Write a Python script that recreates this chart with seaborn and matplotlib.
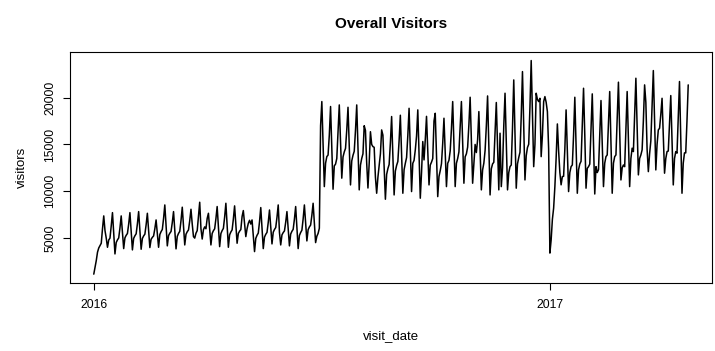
import matplotlib
matplotlib.use("Agg")
import matplotlib.pyplot as plt
import pandas as pd
import seaborn as sns

# Data: total visitors per day
START_DATE = "2016-01-01"
visitors = [
    1150, 1900,                                      # Fri 1 Jan, Sat 2 Jan
    2600, 3500, 3950, 4200, 4450, 6000, 7370,        # weeks run Sun..Sat
    5800, 5000, 4020, 4800, 5000, 6300, 7720,
    5500, 3310, 4530, 4810, 5015, 6070, 7370,
    5625, 3880, 5030, 5300, 5490, 6490, 7720,
    5730, 3740, 4970, 5250, 5460, 6520, 7830,
    5820, 3810, 4960, 5230, 5420, 6420, 7650,
    5820, 3990, 4875, 5080, 5230, 6000, 6940,
    5480, 4020, 5380, 5690, 5920, 7090, 8540,
    6355, 4170, 5270, 5520, 5710, 6660, 7830,
    5840, 3850, 5185, 5500, 5720, 6880, 8300,
    6285, 4270, 5410, 5680, 5870, 6860, 8080,
    6500, 5160, 5000, 5520, 5800, 7300, 8830,
    6000, 4900, 5900, 6200, 6000, 7100, 7650,
    5960, 4270, 5500, 5790, 5990, 7060, 8370,
    6230, 4090, 5480, 5800, 6035, 7240, 8720,
    6370, 4020, 5350, 5655, 5875, 7030, 8440,
    6445, 4450, 5500, 5740, 5915, 7300, 7940,
    6500, 5160, 6000, 6580, 6900, 6500, 6940,
    5250, 3560, 4970, 5300, 5535, 6756, 8260,
    6070, 3880, 5115, 5405, 5610, 6680, 8000,
    6190, 4380, 5630, 5920, 6130, 7210, 8540,
    5600, 4270, 5340, 5590, 5765, 6690, 7830,
    6000, 4170, 5430, 5725, 5935, 7025, 8370,
    6125, 3880, 5280, 5600, 5840, 7050, 8540,
    6620, 4700, 5900, 6190, 6390, 7430, 8720,
    6620, 4520, 5200, 5500, 6050, 17000, 19580,
    15040, 10500, 13000, 13700, 13870, 16000, 19050,
    14635, 10220, 12710, 12900, 13500, 16340, 19220,
    15310, 11400, 13670, 14200, 14580, 16550, 18970,
    14825, 10680, 13240, 13840, 14270, 16490, 19220,
    14685, 10150, 12800, 13500, 14000, 17000, 16500,
    13000, 10350, 13000, 16360, 15000, 14770, 14700,
    11500, 9790, 11500, 12800, 14000, 16550, 16000,
    12575, 9150, 11800, 12420, 12860, 15150, 17980,
    13795, 9610, 12160, 12760, 13185, 15400, 18120,
    13955, 9790, 12300, 12990, 13600, 15960, 18860,
    14415, 9970, 12990, 13300, 14420, 15900, 18690,
    13975, 9260, 12000, 15310, 13350, 15500, 18000,
    14340, 10680, 12800, 13110, 13500, 17500, 18330,
    13880, 9430, 11570, 12200, 12945, 15120, 17800,
    14150, 10500, 12990, 13300, 14310, 16670, 19580,
    15040, 10500, 12990, 13500, 14200, 16800, 19580,
    15220, 10860, 13680, 14000, 14715, 17100, 20040,
    15450, 10860, 13000, 15000, 14140, 15500, 18510,
    14330, 10150, 12280, 13000, 14360, 16970, 20180,
    14895, 9610, 12400, 12920, 13100, 16300, 19480,
    14815, 10150, 16200, 10500, 12500, 17000, 20470,
    15310, 10150, 12000, 12630, 12810, 16800, 21890,
    16110, 10330, 12920, 13600, 14170, 18000, 22780,
    17000, 11210, 13800, 14670, 15020, 19000, 23960,
    18300, 12630, 15000, 20470, 19800, 19580, 19930,
    13700, 16000, 19580, 20110, 19500, 18500, 14500,
    3400, 4800, 7000, 8200, 10500, 13500, 17190,
    14310, 12000, 10690, 11570, 11600, 14500, 18690,
    14330, 9970, 12000, 12630, 12810, 16000, 20040,
    14915, 9790, 12300, 12920, 13200, 17000, 21000,
    16000, 10330, 12450, 12630, 12900, 16500, 20400,
    15055, 9710, 12630, 12000, 12300, 16000, 19690,
    15095, 10500, 13000, 13700, 13880, 17200, 20650,
    15220, 9790, 13000, 13700, 13880, 17700, 21650,
    16430, 11210, 12500, 12810, 12630, 16600, 20650,
    15575, 10500, 13500, 14600, 14240, 18000, 22070,
    16900, 11750, 13500, 13880, 14420, 17500, 21360,
    19500, 14500, 12100, 14000, 15380, 19000, 22890,
    17585, 12280, 15000, 16550, 16730, 18200, 19930,
    15930, 11930, 13500, 14240, 14300, 17200, 20220,
    15450, 10680, 13500, 14240, 14070, 17800, 21720,
    15755, 9790, 13000, 14100, 14100, 17500, 21360,
]
year_ticks = ["2016-01-01", "2017-01-01"]
year_labels = ["2016", "2017"]
y_ticks = [5000, 10000, 15000, 20000]

sns.set_theme(style="ticks")
plt.rcParams["font.family"] = ["Liberation Sans", "DejaVu Sans"]
plt.rcParams["text.color"] = "black"

df = pd.DataFrame({
    "visit_date": pd.date_range(START_DATE, periods=len(visitors), freq="D"),
    "visitors": visitors,
})

fig = plt.figure(figsize=(7.15, 3.51), dpi=100)
ax = fig.add_axes([70 / 715, 1 - 282.7 / 351, 642 / 715, 230.7 / 351])
sns.lineplot(data=df, x="visit_date", y="visitors", color="black", linewidth=1.1, ax=ax)

# R-style 4% padding on both axes
d0, d1 = df["visit_date"].min(), df["visit_date"].max()
xpad = (d1 - d0) * 0.04
ax.set_xlim(d0 - xpad, d1 + xpad)
lo, hi = min(visitors), max(visitors)
ypad = (hi - lo) * 0.04
ax.set_ylim(lo - ypad, hi + ypad)

ax.set_xticks(pd.to_datetime(year_ticks))
ax.set_xticklabels(year_labels)
ax.set_yticks(y_ticks)
ax.set_yticklabels([str(v) for v in y_ticks], rotation=90, va="center")
ax.minorticks_off()
ax.tick_params(length=5, width=0.8, color="black", labelsize=8.8, labelcolor="black")
ax.tick_params(axis="x", pad=7)
ax.tick_params(axis="y", pad=5)
for spine in ax.spines.values():
    spine.set_color("black")
    spine.set_linewidth(0.8)

ax.set_title("Overall Visitors", fontsize=11, fontweight="bold", pad=17)
ax.set_xlabel("visit_date", fontsize=9.5, color="black")
ax.set_ylabel("visitors", fontsize=9.5, color="black")
ax.xaxis.set_label_coords(0.5, -0.207)
ax.yaxis.set_label_coords(-0.066, 0.5)

fig.savefig("out.png", dpi=100)
